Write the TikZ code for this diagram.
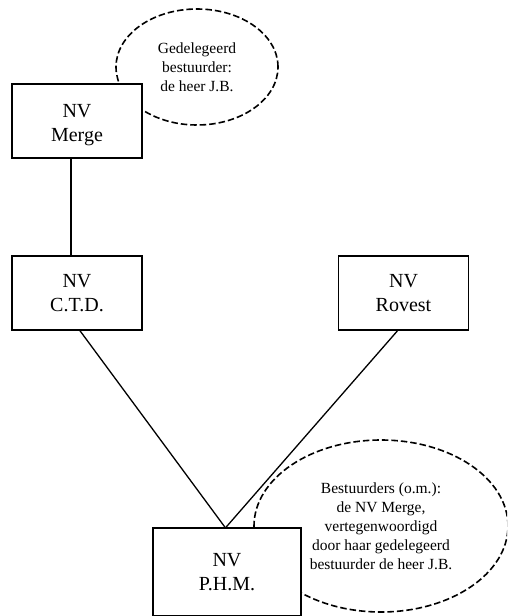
\documentclass[tikz,border=0pt]{standalone}
\usepackage{fontspec}
\setmainfont{Liberation Serif}
\usetikzlibrary{shapes.geometric}
\begin{document}
\begin{tikzpicture}[x=1pt,y=-1pt,
  company/.style={draw, line width=1.5pt, fill=white, align=center,
    minimum width=130pt, minimum height=74pt, inner sep=0pt,
    font=\fontsize{20}{24}\selectfont},
  note/.style={draw, ellipse, dashed, dash pattern=on 6.5pt off 3pt,
    line width=1.6pt, align=center, inner sep=0pt,
    font=\fontsize{15.5}{19}\selectfont},
  link/.style={line width=1.3pt}]
\useasboundingbox (0,0) rectangle (507,616);
\clip (0,0) rectangle (507,616);

% remarks about the directors, drawn behind the companies
\node[note, minimum width=162pt, minimum height=116pt] (n1) at (197,67)
  {Gedelegeerd\\bestuurder:\\de heer J.B.};
\node[note, minimum width=254pt, minimum height=172pt] (n2) at (381,526)
  {Bestuurders (o.m.):\\de NV Merge,\\vertegenwoordigd\\door haar gedelegeerd\\bestuurder de heer J.B.};

% companies
\node[company, label={[align=center, font=\fontsize{20}{24}\selectfont,
  yshift=-4pt]center:NV\\Merge}] (merge) at (77,121) {};
\node[company] (ctd) at (77,293) {NV\\C.T.D.};
\node[company] (rov) at (403.5,293) {NV\\Rovest};
\node[company, minimum width=148pt, minimum height=88pt] (phm) at (227,572) {NV\\P.H.M.};

% shareholdings
\draw[link] ([xshift=-6pt]merge.south) -- ([xshift=-6pt]ctd.north);
\draw[link] ([xshift=3pt]ctd.south) -- ([xshift=-2pt]phm.north);
\draw[link] ([xshift=-6pt]rov.south) -- ([xshift=-1pt]phm.north);
\end{tikzpicture}
\end{document}
